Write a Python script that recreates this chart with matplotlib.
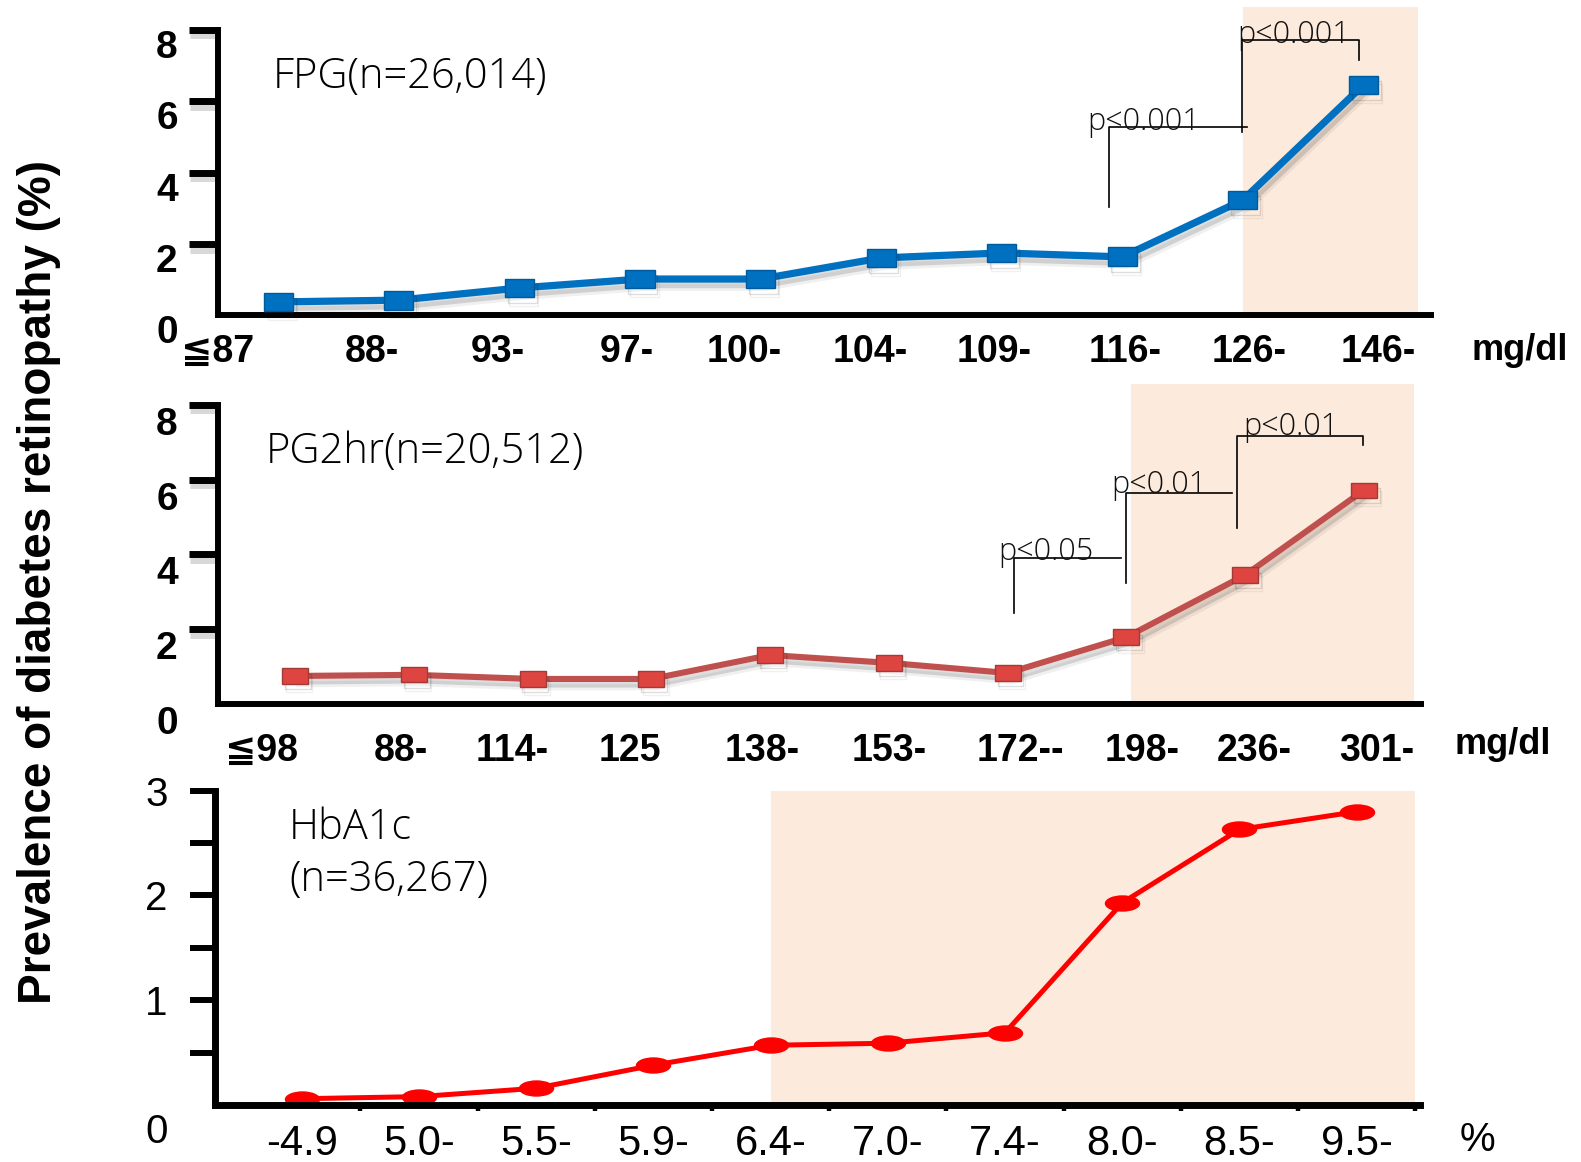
import numpy as np
import matplotlib
matplotlib.use("Agg")
import matplotlib.pyplot as plt
import matplotlib.patheffects as pe
from matplotlib.markers import MarkerStyle
from matplotlib.transforms import Affine2D, ScaledTranslation

W, H = 1581, 1162

# ---- data ----
fpg_labels = ["≦87", "88-", "93-", "97-", "100-", "104-", "109-", "116-", "126-", "146-"]
fpg_values = [0.38, 0.43, 0.77, 1.02, 1.02, 1.61, 1.75, 1.64, 3.23, 6.45]

pg2_labels = ["≦98", "88-", "114-", "125", "138-", "153-", "172--", "198-", "236-", "301-"]
pg2_values = [0.75, 0.78, 0.67, 0.67, 1.31, 1.10, 0.83, 1.79, 3.45, 5.72]

hba_labels = ["-4.9", "5.0-", "5.5-", "5.9-", "6.4-", "7.0-", "7.4-", "8.0-", "8.5-", "9.5-"]
hba_values = [0.06, 0.08, 0.16, 0.38, 0.57, 0.59, 0.69, 1.93, 2.63, 2.80]

glu_yticks = [0, 2, 4, 6, 8]
hba_yticks = [0, 0.5, 1, 1.5, 2, 2.5, 3]
hba_yticklabels = ["0", "", "1", "", "2", "", "3"]

# where the bold category labels sit (index units), they are not centred on the points
fpg_label_x = [-0.50, 0.78, 1.82, 2.89, 3.86, 4.91, 5.94, 7.02, 8.05, 9.12]
pg2_label_x = [-0.28, 0.89, 1.83, 2.82, 3.93, 5.00, 6.11, 7.13, 8.08, 9.11]

SHADE = "#FCEADC"
BOLD = ["Liberation Sans", "DejaVu Sans"]
NARROW = ["Liberation Sans Narrow", "Liberation Sans", "DejaVu Sans"]
THIN = ["Open Sans", "DejaVu Sans"]

fig = plt.figure(figsize=(W / 100, H / 100), dpi=100)


def px_axes(l, t, r, b):
    return fig.add_axes([l / W, 1 - b / H, (r - l) / W, (b - t) / H])


def shift_ylabels(ax, dy):
    for t in ax.get_yticklabels():
        t.set_transform(t.get_transform() + ScaledTranslation(0, -dy / 100, fig.dpi_scale_trans))


def bracket(ax, x0, yl, ytop, x1, yr, txt, tx, ty):
    ax.plot([x0, x0, x1, x1], [yl, ytop, ytop, yr], color="black", lw=1.2, zorder=4)
    ax.text(tx, ty, txt, fontsize=22, family=THIN, weight="light", color="#111111",
            ha="left", va="baseline", zorder=5)


line_shadow = [pe.SimpleLineShadow(offset=(3, -6), shadow_color="black", alpha=0.06),
               pe.SimpleLineShadow(offset=(2, -4), shadow_color="black", alpha=0.13),
               pe.Normal()]
tick_shadow = [pe.SimpleLineShadow(offset=(1, -4), shadow_color="gray", alpha=0.3), pe.Normal()]


def glucose_panel(ax, values, labels, label_x, xlim, ylim, shade, color, mk, label_dy, xpad):
    x = np.arange(len(values))
    ax.axvspan(shade[0], shade[1], color=SHADE, lw=0, zorder=0)
    ax.plot(x, values, color=color[0], lw=color[2], marker=mk[0], ms=mk[1],
            mfc=color[1], mec=color[3], mew=1.0, solid_joinstyle="round",
            path_effects=line_shadow, zorder=3, clip_on=False)
    ax.set_xlim(*xlim)
    ax.set_ylim(*ylim)
    for s in ["top", "right"]:
        ax.spines[s].set_visible(False)
    ax.spines["left"].set_linewidth(4.3)
    ax.spines["bottom"].set_linewidth(4.3)
    ax.spines["left"].set_bounds(0, 8)
    ax.set_yticks(glu_yticks, [str(v) for v in glu_yticks])
    ax.tick_params(axis="y", direction="out", length=21, width=5, pad=8,
                   labelsize=28)
    for t in ax.get_yticklabels():
        t.set_family(BOLD)
        t.set_weight("bold")
    ax.yaxis.get_major_ticks()[0].tick1line.set_visible(False)
    for tk in ax.yaxis.get_major_ticks():
        tk.tick1line.set_path_effects(tick_shadow)
    ax.set_xticks(label_x, labels)
    ax.tick_params(axis="x", length=0, pad=xpad, labelsize=27)
    for t in ax.get_xticklabels():
        t.set_family(BOLD)
        t.set_weight("bold")
    shift_ylabels(ax, label_dy)


# ---- panel 1: FPG ----
ax1 = px_axes(218, 7, 1431, 315.5)
square1 = MarkerStyle("s", transform=Affine2D().scale(1.55, 1.0))
glucose_panel(ax1, fpg_values, fpg_labels, fpg_label_x, (-0.49, 9.56), (0, 8.63),
              (8.0, 9.45), ("#0070C0", "#0070C0", 5.2, "#005A9E"), (square1, 13.5), 14, 13)
bracket(ax1, 6.89, 3.03, 5.27, 8.03, 5.27, "p<0.001", 6.71, 5.19)
bracket(ax1, 7.99, 5.13, 7.71, 8.96, 7.15, "p<0.001", 7.95, 7.62)
fig.text(273 / W, 1 - 77 / H, "FPG(n=26,014)", fontsize=30, family=THIN, weight="light",
         ha="left", va="center")
fig.text(1520 / W, 1 - 350 / H, "mg/dl", fontsize=26, family=BOLD, weight="bold",
         ha="center", va="center")

# ---- panel 2: PG2hr ----
ax2 = px_axes(218, 384, 1421, 704)
square2 = MarkerStyle("s", transform=Affine2D().scale(1.7, 1.0))
glucose_panel(ax2, pg2_values, pg2_labels, pg2_label_x, (-0.65, 9.48), (0, 8.56),
              (7.04, 9.42), ("#C0504D", "#DE4541", 4.4, "#A33A37"), (square2, 11), 16, 21)
bracket(ax2, 6.05, 2.43, 3.90, 6.95, 3.90, "p<0.05", 5.92, 3.85)
bracket(ax2, 7.00, 3.24, 5.64, 7.89, 5.64, "p<0.01", 6.87, 5.64)
bracket(ax2, 7.93, 4.71, 7.17, 8.99, 6.93, "p<0.01", 7.98, 7.19)
fig.text(266 / W, 1 - 452 / H, "PG2hr(n=20,512)", fontsize=30, family=THIN, weight="light",
         ha="left", va="center")
fig.text(1503 / W, 1 - 745 / H, "mg/dl", fontsize=26, family=BOLD, weight="bold",
         ha="center", va="center")

# ---- panel 3: HbA1c ----
ax3 = px_axes(215, 790.7, 1420, 1105)
x3 = np.arange(len(hba_values))
ax3.axvspan(4.0, 9.5, color=SHADE, lw=0, zorder=0)
ellipse = MarkerStyle("o", transform=Affine2D().scale(2.27, 1.0))
ax3.plot(x3, hba_values, color="#FF0000", lw=3.6, marker=ellipse, ms=10.8,
         mfc="#FF0000", mec="#FF0000", zorder=2, clip_on=False)
ax3.set_xlim(-0.74, 9.54)
ax3.set_ylim(0, 3.0)
for s in ["top", "right"]:
    ax3.spines[s].set_visible(False)
ax3.spines["left"].set_linewidth(5)
ax3.spines["bottom"].set_linewidth(5)
ax3.set_yticks(hba_yticks, hba_yticklabels)
ax3.tick_params(axis="y", direction="out", length=18, width=4.3, pad=16, labelsize=29)
for t in ax3.get_yticklabels():
    t.set_family(NARROW)
ax3.yaxis.get_major_ticks()[0].tick1line.set_visible(False)
ax3.get_yticklabels()[0].set_va("top")
ax3.get_yticklabels()[0].set_transform(
    ax3.get_yticklabels()[0].get_transform() + ScaledTranslation(0, -8 / 100, fig.dpi_scale_trans))
ax3.set_xticks(np.arange(0.5, 10, 1))
ax3.set_xticks(x3, hba_labels, minor=True)
ax3.tick_params(axis="x", which="major", direction="out", length=4.5, width=3.2, labelbottom=False)
ax3.tick_params(axis="x", which="minor", length=0, pad=14, labelsize=30)
for t in ax3.get_xticklabels(minor=True):
    t.set_family(NARROW)
fig.text(289 / W, 1 - 828 / H, "HbA1c", fontsize=30, family=THIN, weight="light",
         ha="left", va="center")
fig.text(289 / W, 1 - 880 / H, "(n=36,267)", fontsize=30, family=THIN, weight="light",
         ha="left", va="center")
fig.text(1477 / W, 1 - 1140 / H, "%", fontsize=29, family=NARROW, ha="center", va="center")

# shared y label
fig.text(39 / W, 1 - 582 / H, "Prevalence of diabetes retinopathy (%)", rotation=90,
         fontsize=33, family=BOLD, weight="bold", ha="center", va="center")

fig.savefig("out.png", dpi=100)
